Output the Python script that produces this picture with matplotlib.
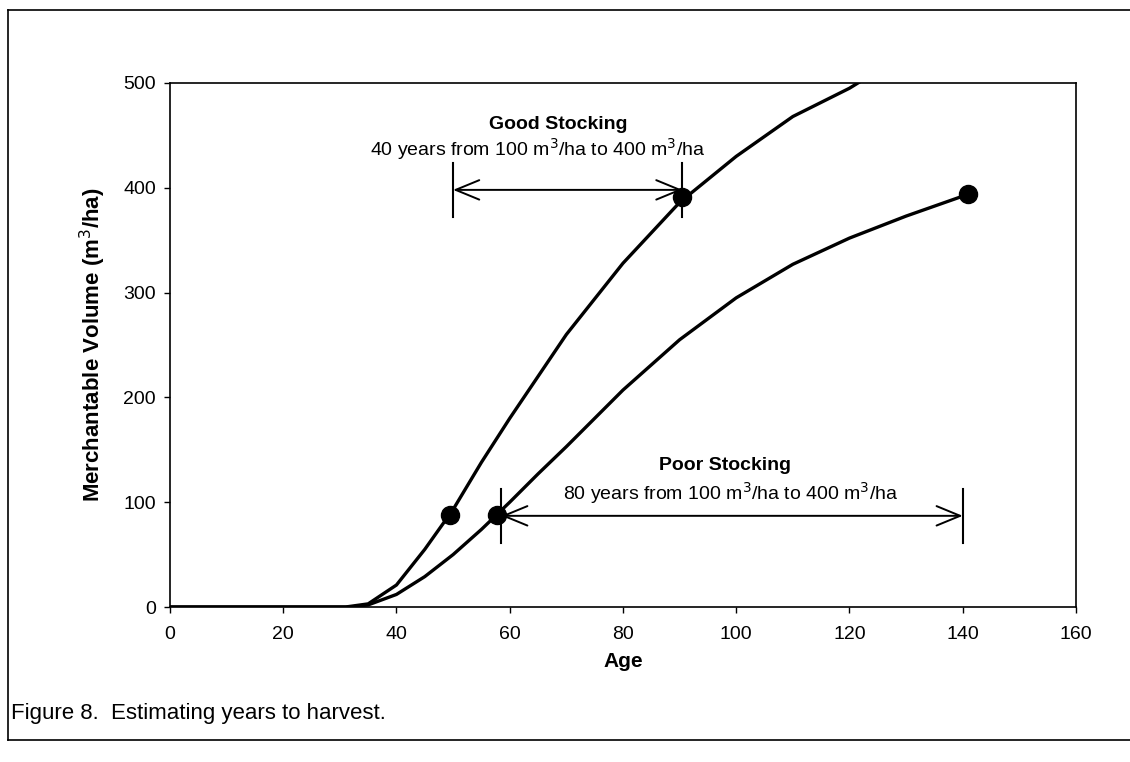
import matplotlib
matplotlib.use("Agg")
import matplotlib.pyplot as plt
from matplotlib.lines import Line2D

plt.rcParams['font.family'] = ['Liberation Sans', 'DejaVu Sans']

# data
good_age = [0, 10, 20, 31, 35, 40, 45, 50, 55, 60, 65, 70, 80, 90, 100, 110, 120, 123]
good_vol = [0, 0, 0, 0, 3, 21, 55, 93, 138, 180, 220, 260, 328, 386, 430, 468, 495, 505]
poor_age = [0, 10, 20, 32, 35, 40, 45, 50, 55, 60, 65, 70, 80, 90, 100, 110, 120, 130, 140]
poor_vol = [0, 0, 0, 0, 2, 12, 29, 50, 74, 100, 127, 153, 207, 255, 295, 327, 352, 373, 392]

good_dots_age = [49.5, 90.5]
good_dots_vol = [88, 391]
poor_dots_age = [57.7, 141]
poor_dots_vol = [88, 394]

good_span = (50, 90.5, 398)
poor_span = (58.5, 140, 87)

fig = plt.figure(figsize=(11.3, 7.62), dpi=100)
ax = fig.add_axes([0.1504, 0.2034, 0.8018, 0.6877])

ax.plot(good_age, good_vol, color='black', lw=2.4, solid_capstyle='round')
ax.plot(poor_age, poor_vol, color='black', lw=2.4, solid_capstyle='round')
ax.plot(good_dots_age, good_dots_vol, 'o', color='black', ms=13, clip_on=False)
ax.plot(poor_dots_age, poor_dots_vol, 'o', color='black', ms=13, clip_on=False)

# span arrows with end bars
for x0, x1, y in [good_span, poor_span]:
    ax.annotate('', xy=(x0, y), xytext=(x1, y),
                arrowprops=dict(arrowstyle='<->,head_length=1.7,head_width=0.7',
                                color='black', lw=1.4, mutation_scale=10,
                                shrinkA=0, shrinkB=0))
    ax.plot([x0, x0], [y - 26, y + 26], color='black', lw=1.5)
    ax.plot([x1, x1], [y - 26, y + 26], color='black', lw=1.5)

ax.text(68.5, 460, 'Good Stocking', ha='center', va='center', fontsize=14, fontweight='bold')
ax.text(65, 437, '40 years from 100 m$^3$/ha to 400 m$^3$/ha', ha='center', va='center', fontsize=14)
ax.text(98, 135, 'Poor Stocking', ha='center', va='center', fontsize=14, fontweight='bold')
ax.text(99, 109, '80 years from 100 m$^3$/ha to 400 m$^3$/ha', ha='center', va='center', fontsize=14)

ax.set_xlim(0, 160)
ax.set_ylim(0, 500)
ax.set_xticks(range(0, 161, 20))
ax.set_yticks(range(0, 501, 100))
ax.tick_params(direction='out', length=4, width=1, labelsize=14)
ax.tick_params(axis='x', pad=10)
ax.tick_params(axis='y', pad=6)
for s in ax.spines.values():
    s.set_linewidth(1.2)

ax.set_xlabel('Age', fontsize=15, fontweight='bold')
ax.xaxis.set_label_coords(0.5, -0.085)
ax.set_ylabel('Merchantable Volume (m$^3$/ha)', fontsize=16, fontweight='bold')
ax.yaxis.set_label_coords(-0.068, 0.5)

# outer frame (left, top, bottom only)
fl, ft, fb = 8 / 1130, 1 - 10 / 762, 1 - 740 / 762
for xs, ys in [([fl, fl], [fb, ft]), ([fl, 1.0], [ft, ft]), ([fl, 1.0], [fb, fb])]:
    fig.add_artist(Line2D(xs, ys, color='black', lw=1.2, transform=fig.transFigure))

fig.text(11 / 1130, 1 - 713 / 762, 'Figure 8.  Estimating years to harvest.',
         fontsize=16, va='center', ha='left')

fig.savefig('out.png', dpi=100)
